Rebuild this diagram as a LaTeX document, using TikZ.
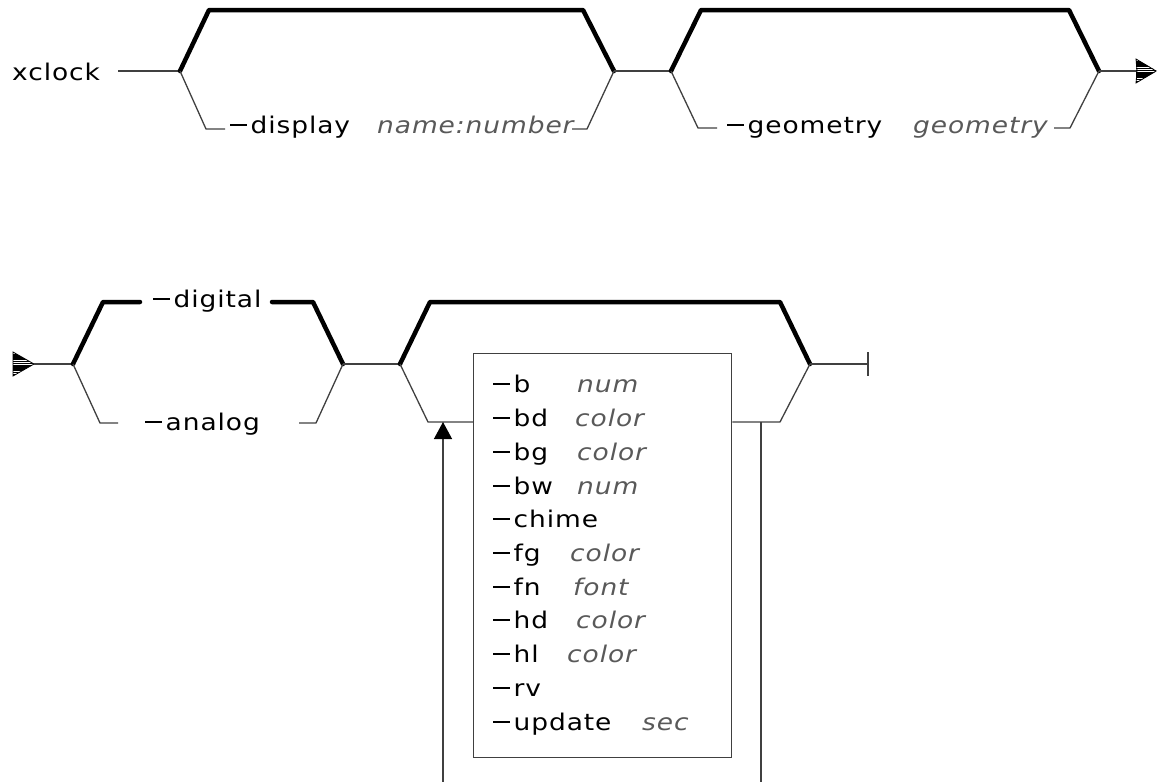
\documentclass[tikz,border=0pt]{standalone}
\usepackage{fontspec}
\setmainfont{DejaVu Sans}[FakeStretch=1.15,LetterSpace=4]
\usetikzlibrary{arrows.meta}
\newcommand{\mns}{\rule[7pt]{17pt}{2pt}\hspace{3.5pt}}
\begin{document}
\begin{tikzpicture}[x=1pt,y=-1pt,
  heavy/.style={line width=4.5pt,line join=round,line cap=round},
  light/.style={line width=1.3pt,black!75},
  lbl/.style={inner sep=0pt,anchor=base west,font=\fontsize{23}{27}\selectfont},
  var/.style={lbl,font=\fontsize{23}{27}\selectfont\itshape,text=black!65},
  hatchout/.style={line width=0.8pt,black}]
\useasboundingbox (0,0) rectangle (1157,782);

% ---------- top row ----------
\node[lbl] (xc) at (12,80) {xclock};
\coordinate (b1L) at (180,71);
\coordinate (b1R) at (614,71);
\coordinate (b2L) at (671,71);
\coordinate (b2R) at (1099,71);
\coordinate (endT) at (1137,71);
\draw[light] (118,71) -- (b1L);
\draw[heavy] (b1L) -- (209,10) -- (583,10) -- (b1R);
\node[lbl] (disp) at (230,133) {\mns display};
\node[var] (dispv) at (377,133) {name:number};
\draw[light] (b1L) -- (206,129) -- (225,129);
\draw[light] (572,129) -- (587,129) -- (b1R);
\draw[light] (b1R) -- (b2L);
\draw[heavy] (b2L) -- (701,10) -- (1069,10) -- (b2R);
\node[lbl] (geo) at (727,133) {\mns geometry};
\node[var] (geov) at (913,133) {geometry};
\draw[light] (b2L) -- (698,128) -- (717,128);
\draw[light] (1054,128) -- (1070,128) -- (b2R);
\draw[light] (b2R) -- (endT);
\begin{scope}
  \clip (1136,59) -- (1157,71) -- (1136,83) -- cycle;
  \foreach \yy in {59.5,61.7,...,83} \draw[line width=1.6pt] (1136,\yy) -- (1157,\yy);
\end{scope}
\draw[hatchout] (endT) -- (1136,59) -- (1156,71) -- (1136,83) -- cycle;

% ---------- bottom row ----------
\coordinate (startB) at (34,364);
\begin{scope}
  \clip (13,352) -- (34,364) -- (13,376) -- cycle;
  \foreach \yy in {352.5,354.7,...,376} \draw[line width=1.6pt] (13,\yy) -- (34,\yy);
\end{scope}
\draw[hatchout] (13,352) -- (startB) -- (13,376) -- cycle;
\coordinate (c1L) at (73,364);
\coordinate (c1R) at (343,364);
\coordinate (c2L) at (400,364);
\coordinate (c2R) at (810,364);
\coordinate (endB) at (868,364);
\draw[light] (startB) -- (c1L);
\draw[heavy] (c1L) -- (103,302) -- (140,302);
\node[lbl] (dig) at (153,307) {\mns digital};
\draw[heavy] (272,302) -- (313,302) -- (c1R);
\draw[light] (c1L) -- (100,423) -- (118,423);
\node[lbl] (ana) at (145,430) {\mns analog};
\draw[light] (299,423) -- (316,423) -- (c1R);
\draw[light] (c1R) -- (c2L);
\draw[heavy] (c2L) -- (430,302) -- (780,302) -- (c2R);
\node[draw=black!75,line width=1.3pt,inner sep=0pt,minimum width=258pt,minimum height=404pt,anchor=north west] (box) at (473,353) {};
\coordinate (lpL) at (428,422);
\coordinate (lpR) at (780,422);
\draw[light] (c2L) -- (lpL) -- (lpL -| box.west);
\draw[light] (lpR -| box.east) -- (lpR) -- (c2R);
\draw[light] (c2R) -- (endB);
\draw[light] (868,352) -- (868,376);
\coordinate (upA) at (443,422);
\coordinate (upB) at (443,782);
\coordinate (dnA) at (761,422);
\coordinate (dnB) at (761,782);
\draw[light,-{Triangle[width=18pt,length=17pt,color=black]}] (upB) -- (upA);
\draw[light] (dnA) -- (dnB);

% options in the box
\foreach \i/\o/\v/\vx/\by in {0/b/num/577/392,1/bd/color/575/426,2/bg/color/577/460,
  3/bw/num/577/494,4/chime//575/527,5/fg/color/570/561,6/fn/font/573/595,
  7/hd/color/576/628,8/hl/color/567/662,9/rv//575/696,10/update/sec/642/730}{
  \node[lbl] (o\i) at (493,\by) {\mns\o};
  \node[var] (v\i) at (\vx,\by) {\v};
}
\end{tikzpicture}
\end{document}
